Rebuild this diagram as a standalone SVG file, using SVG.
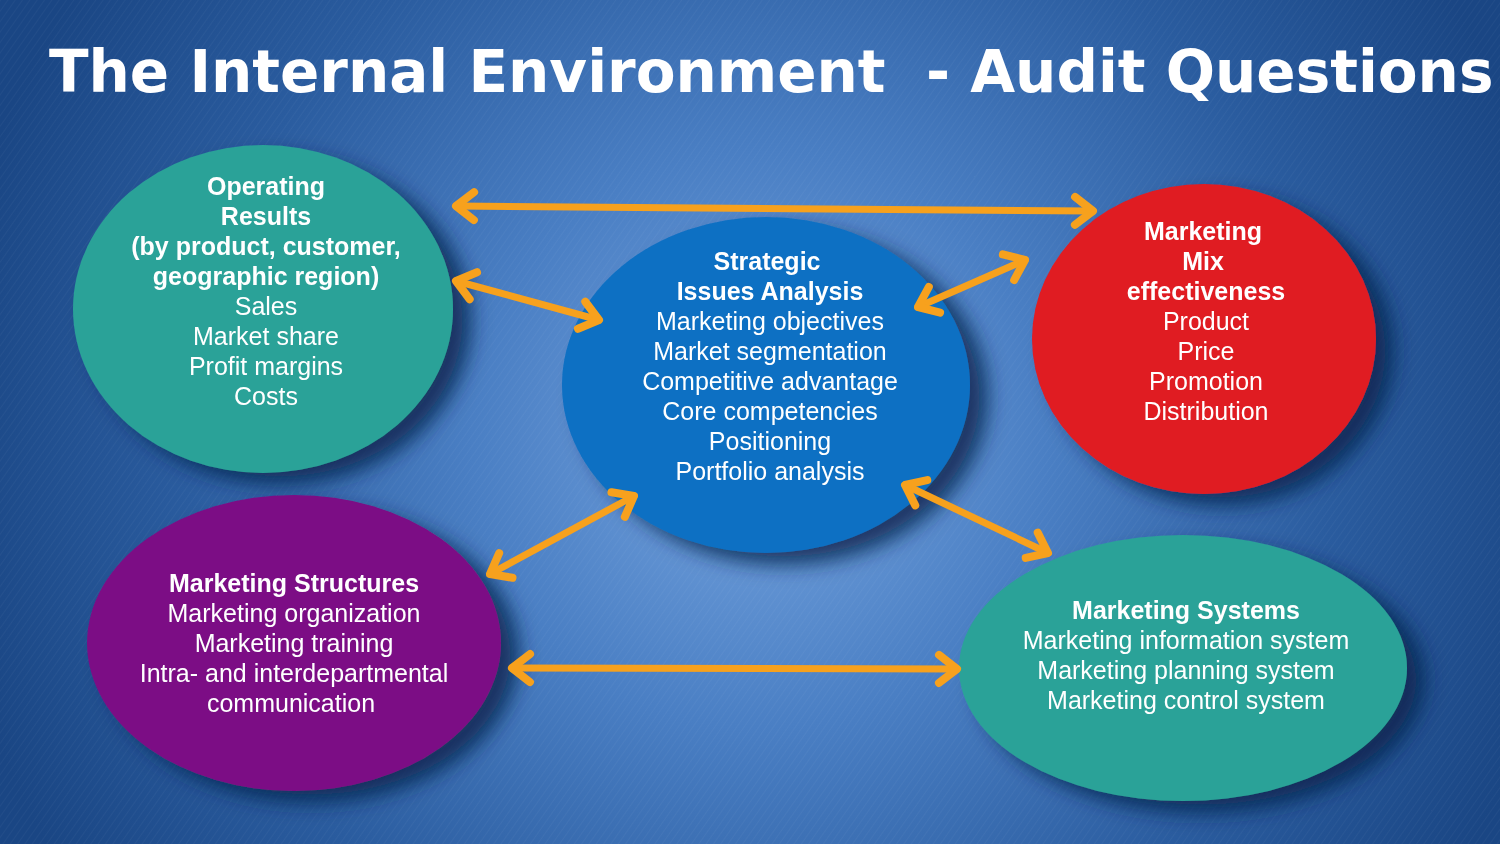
<svg xmlns="http://www.w3.org/2000/svg" width="1500" height="844" viewBox="0 0 1500 844">
  <defs>
    <radialGradient id="bg" cx="760" cy="440" r="820" gradientUnits="userSpaceOnUse">
      <stop offset="0" stop-color="#74a3de"/>
      <stop offset="0.35" stop-color="#4a7fc4"/>
      <stop offset="0.7" stop-color="#2a5c9f"/>
      <stop offset="1" stop-color="#1a4684"/>
    </radialGradient>
    <pattern id="lines" width="6" height="6" patternUnits="userSpaceOnUse" patternTransform="rotate(35)">
      <line x1="0" y1="0" x2="0" y2="6" stroke="#ffffff" stroke-opacity="0.07" stroke-width="1"/>
    </pattern>
    <filter id="shadow" x="-20%" y="-20%" width="150%" height="150%">
      <feGaussianBlur in="SourceAlpha" stdDeviation="10"/>
      <feOffset dx="18" dy="12" result="b"/>
      <feFlood flood-color="#0a244d" flood-opacity="0.8"/>
      <feComposite in2="b" operator="in" result="s"/>
      <feMerge><feMergeNode in="s"/><feMergeNode in="SourceGraphic"/></feMerge>
    </filter>
    <marker id="chev" markerUnits="userSpaceOnUse" markerWidth="40" markerHeight="40" refX="0" refY="0" viewBox="-30 -20 40 40" orient="auto-start-reverse" overflow="visible">
      <path d="M-18,-14 L0,0 L-18,14" fill="none" stroke="#f7a11d" stroke-width="8" stroke-linecap="round" stroke-linejoin="round"/>
    </marker>
    <style>
      .t { font-family: "Liberation Sans", Arial, sans-serif; font-size: 25px; fill: #ffffff; text-anchor: middle; }
      .b { font-weight: bold; }
      .title { font-family: "DejaVu Sans", sans-serif; font-weight: bold; font-size: 58px; fill: #ffffff; }
      .arr { fill: none; stroke: #f7a11d; stroke-width: 7; stroke-linecap: round; marker-start: url(#chev); marker-end: url(#chev); }
    </style>
  </defs>

  <rect width="1500" height="844" fill="url(#bg)"/>
  <rect width="1500" height="844" fill="url(#lines)"/>

  <text class="title" x="49" y="92" xml:space="preserve">The Internal Environment  - Audit Questions</text>

  <g id="operating-results" filter="url(#shadow)">
    <ellipse cx="263" cy="309" rx="190" ry="164" fill="#2aa298"/>
    <text class="t b" x="266" y="195">Operating</text>
    <text class="t b" x="266" y="225">Results</text>
    <text class="t b" x="266" y="255">(by product, customer,</text>
    <text class="t b" x="266" y="285">geographic region)</text>
    <text class="t" x="266" y="315">Sales</text>
    <text class="t" x="266" y="345">Market share</text>
    <text class="t" x="266" y="375">Profit margins</text>
    <text class="t" x="266" y="405">Costs</text>
  </g>

  <g id="strategic-issues" filter="url(#shadow)">
    <ellipse cx="766" cy="385" rx="204" ry="168" fill="#0b6fc3"/>
    <text class="t b" x="767" y="270">Strategic</text>
    <text class="t b" x="770" y="300">Issues Analysis</text>
    <text class="t" x="770" y="330">Marketing objectives</text>
    <text class="t" x="770" y="360">Market segmentation</text>
    <text class="t" x="770" y="390">Competitive advantage</text>
    <text class="t" x="770" y="420">Core competencies</text>
    <text class="t" x="770" y="450">Positioning</text>
    <text class="t" x="770" y="480">Portfolio analysis</text>
  </g>

  <g id="marketing-mix" filter="url(#shadow)">
    <ellipse cx="1204" cy="339" rx="172" ry="155" fill="#e01b22"/>
    <text class="t b" x="1203" y="240">Marketing</text>
    <text class="t b" x="1203" y="270">Mix</text>
    <text class="t b" x="1206" y="300">effectiveness</text>
    <text class="t" x="1206" y="330">Product</text>
    <text class="t" x="1206" y="360">Price</text>
    <text class="t" x="1206" y="390">Promotion</text>
    <text class="t" x="1206" y="420">Distribution</text>
  </g>

  <g id="marketing-structures" filter="url(#shadow)">
    <ellipse cx="294" cy="643" rx="207" ry="148" fill="#7b1185"/>
    <text class="t b" x="294" y="592">Marketing Structures</text>
    <text class="t" x="294" y="622">Marketing organization</text>
    <text class="t" x="294" y="652">Marketing training</text>
    <text class="t" x="294" y="682">Intra- and interdepartmental</text>
    <text class="t" x="291" y="712">communication</text>
  </g>

  <g id="marketing-systems" filter="url(#shadow)">
    <ellipse cx="1183" cy="668" rx="224" ry="133" fill="#2aa298"/>
    <text class="t b" x="1186" y="619">Marketing Systems</text>
    <text class="t" x="1186" y="649">Marketing information system</text>
    <text class="t" x="1186" y="679">Marketing planning system</text>
    <text class="t" x="1186" y="709">Marketing control system</text>
  </g>

  <g id="connectors">
    <path class="arr" d="M456,206 L1093,211"/>
    <path class="arr" d="M456,281 L599,320"/>
    <path class="arr" d="M918,307 L1025,260"/>
    <path class="arr" d="M490,574 L634,496"/>
    <path class="arr" d="M905,485 L1048,553"/>
    <path class="arr" d="M512,668 L957,669"/>
  </g>
</svg>
